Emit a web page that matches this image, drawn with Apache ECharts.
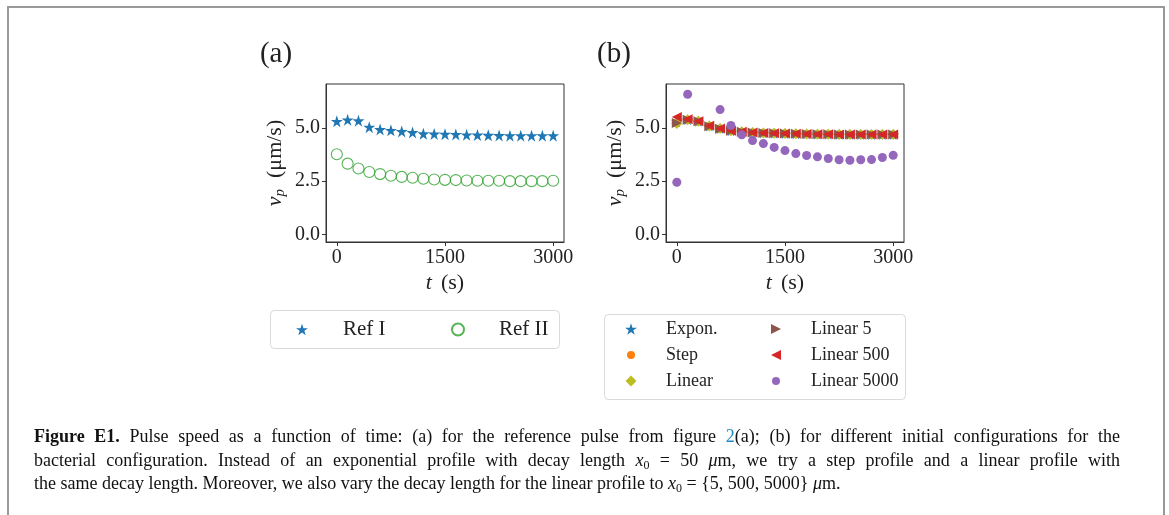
<!DOCTYPE html>
<html>
<head>
<meta charset="utf-8">
<script src="https://cdn.jsdelivr.net/npm/echarts@6/dist/echarts.min.js"></script>
<style>
html,body{margin:0;padding:0;background:#fff;}
#wrap{position:relative;width:1169px;height:515px;overflow:hidden;}
#main{position:absolute;left:0;top:0;width:1169px;height:515px;}
#cap{position:absolute;left:34px;top:425px;width:1086px;font-family:"Liberation Serif","DejaVu Serif",serif;font-size:18px;line-height:23.5px;color:#111;}
#cap div{white-space:nowrap;}
#cap .j{text-align:justify;text-align-last:justify;white-space:normal;}
#cap b{font-weight:bold;}
#cap .lk{color:#1f8ac8;}
#cap i{font-style:italic;}
#cap sub{font-size:12px;vertical-align:-3px;line-height:0;}
</style>
</head>
<body>
<div id="wrap">
<div id="main"></div>
<div id="cap">
<div class="j"><b>Figure E1.</b> Pulse speed as a function of time: (a) for the reference pulse from figure <span class="lk">2</span>(a); (b) for different initial configurations for the</div>
<div class="j">bacterial configuration. Instead of an exponential profile with decay length <i>x</i><sub>0</sub> = 50 <i>μ</i>m, we try a step profile and a linear profile with</div>
<div>the same decay length. Moreover, we also vary the decay length for the linear profile to <i>x</i><sub>0</sub> = {5, 500, 5000} <i>μ</i>m.</div>
</div>
</div>
<script>
// ---- data ----
const times = [0,150,300,450,600,750,900,1050,1200,1350,1500,1650,1800,1950,2100,2250,2400,2550,2700,2850,3000];
const xTicks = [0,1500,3000];
const yTicks = [0,2.5,5.0];
// panel (a)
const refI  = [5.30,5.37,5.33,5.03,4.92,4.88,4.83,4.78,4.72,4.71,4.70,4.69,4.67,4.66,4.65,4.64,4.63,4.63,4.63,4.63,4.63];
const refII = [3.76,3.32,3.09,2.93,2.83,2.75,2.70,2.66,2.61,2.58,2.56,2.55,2.53,2.52,2.52,2.52,2.50,2.50,2.50,2.50,2.52];
// panel (b)
const expon      = [5.28,5.38,5.30,5.08,4.96,4.86,4.81,4.78,4.76,4.74,4.73,4.72,4.71,4.70,4.70,4.69,4.69,4.69,4.68,4.68,4.68];
const step       = [5.22,5.36,5.29,5.07,4.95,4.86,4.81,4.78,4.76,4.74,4.73,4.72,4.71,4.70,4.70,4.69,4.69,4.68,4.68,4.68,4.68];
const linear     = [5.20,5.37,5.30,5.08,4.96,4.86,4.81,4.78,4.76,4.74,4.73,4.72,4.71,4.70,4.70,4.69,4.69,4.68,4.68,4.68,4.68];
const linear5    = [5.22,5.37,5.30,5.07,4.95,4.86,4.81,4.78,4.76,4.74,4.73,4.72,4.71,4.70,4.70,4.69,4.69,4.68,4.68,4.68,4.68];
const linear500  = [5.50,5.40,5.31,5.09,4.97,4.86,4.81,4.78,4.76,4.74,4.73,4.72,4.71,4.70,4.70,4.69,4.69,4.68,4.68,4.68,4.68];
const linear5000 = [2.45,6.57,null,null,5.85,5.11,4.67,4.40,4.26,4.08,3.93,3.79,3.70,3.64,3.56,3.50,3.48,3.50,3.51,3.61,3.71];

const pairs = vals => times.map((t,i)=>[t,vals[i]]).filter(p=>p[1]!==null);

const SERIF = '"Liberation Serif","DejaVu Serif",serif';
const C = {blue:'#1f77b4',orange:'#ff7f0e',green:'#2ca02c',red:'#d62728',purple:'#9467bd',brown:'#8c564b',olive:'#bcbd22'};
const STAR = 'path://M50,0 L61.8,35.1 L98.9,35.1 L68.9,57 L80.3,92.1 L50,70.2 L19.7,92.1 L31.1,57 L1.1,35.1 L38.2,35.1 Z';
const TRI_R = 'path://M0,0 L100,50 L0,100 Z';
const TRI_L = 'path://M100,0 L0,50 L100,100 Z';

function xAxis(idx){
  return {
    gridIndex: idx, type:'value', min:-150, max:3150,
    name:'{i|t}{g| }{n|(s)}', nameLocation:'middle', nameGap:30,
    nameTextStyle:{fontFamily:SERIF, color:'#222', rich:{
      i:{fontFamily:SERIF, fontStyle:'italic', fontSize:22, color:'#222'},
      g:{fontFamily:SERIF, fontSize:22, width:9},
      n:{fontFamily:SERIF, fontSize:22, color:'#222'}}},
    axisLine:{show:true, onZero:false, lineStyle:{color:'#333', width:1}},
    axisTick:{show:true, customValues:xTicks, length:4, inside:false, lineStyle:{color:'#333'}},
    axisLabel:{show:true, customValues:xTicks, margin:6, fontFamily:SERIF, fontSize:20, color:'#222',
      formatter: v => String(Math.round(v))},
    splitLine:{show:false}
  };
}
function yAxis(idx){
  return {
    gridIndex: idx, type:'value', min:-0.35, max:7.05,
    name:'{i|v}{s|p}{n|  (μm/s)}', nameLocation:'middle', nameGap:38, nameRotate:90,
    nameTextStyle:{fontFamily:SERIF, color:'#222', rich:{
      i:{fontFamily:SERIF, fontStyle:'italic', fontSize:22, lineHeight:26, color:'#222'},
      s:{fontFamily:SERIF, fontStyle:'italic', fontSize:15, lineHeight:15, verticalAlign:'bottom', color:'#222'},
      n:{fontFamily:SERIF, fontSize:22, lineHeight:26, color:'#222'}}},
    axisLine:{show:true, onZero:false, lineStyle:{color:'#333', width:1}},
    axisTick:{show:true, customValues:yTicks, length:4, inside:false, lineStyle:{color:'#333'}},
    axisLabel:{show:true, customValues:yTicks, margin:6, fontFamily:SERIF, fontSize:20, color:'#222',
      formatter: v => Number(v).toFixed(1)},
    splitLine:{show:false}
  };
}
function sc(name, idx, data, symbol, size, color, extra){
  return Object.assign({
    name, type:'scatter', xAxisIndex:idx, yAxisIndex:idx, data:pairs(data),
    symbol, symbolSize:size, itemStyle:{color, opacity:1}, emphasis:{disabled:true}, silent:true
  }, extra||{});
}
// legend item: marker centred at mx, text starting at tx, row centred at my
function lg(name, icon, size, mx, tx, my, fs){
  const left = mx - size/2;
  const pad = tx - (left + size + 5);
  return {data:[{name, icon}], left, top:my-10, orient:'horizontal', padding:0, itemWidth:size, itemHeight:size,
    itemGap:0, selectedMode:false,
    textStyle:{fontFamily:SERIF, fontSize:fs, color:'#222', lineHeight:20, padding:[0,0,0,pad]}};
}

const option = {
  backgroundColor:'#fff',
  animation:false,
  grid:[
    {left:326, top:84, width:238, height:158, show:true, borderColor:'#333', borderWidth:1, containLabel:false},
    {left:666, top:84, width:238, height:158, show:true, borderColor:'#333', borderWidth:1, containLabel:false}
  ],
  xAxis:[xAxis(0), xAxis(1)],
  yAxis:[yAxis(0), yAxis(1)],
  legend:[
    lg('Ref I', STAR, 12, 302, 343, 329, 21),
    lg('Ref II', 'circle', 12, 457, 498, 329, 21),
    lg('Expon.', STAR, 12, 631, 666, 329, 18),
    lg('Step', 'circle', 8, 631, 666, 355, 18),
    lg('Linear', 'diamond', 11, 631, 666, 381, 18),
    lg('Linear 5', TRI_R, 10, 776, 811, 329, 18),
    lg('Linear 500', TRI_L, 10, 776, 811, 355, 18),
    lg('Linear 5000', 'circle', 8, 776, 811, 381, 18)
  ],
  series:[
    sc('Ref I', 0, refI, STAR, 12, C.blue),
    sc('Ref II', 0, refII, 'circle', 11, 'rgba(0,0,0,0)', {itemStyle:{color:'rgba(0,0,0,0)', borderColor:C.green, borderWidth:1.1}}),
    sc('Expon.', 1, expon, STAR, 11, C.blue),
    sc('Step', 1, step, 'circle', 8, C.orange),
    sc('Linear', 1, linear, 'diamond', 11, C.olive),
    sc('Linear 5', 1, linear5, TRI_R, 10, C.brown),
    sc('Linear 500', 1, linear500, TRI_L, 10, C.red),
    sc('Linear 5000', 1, linear5000, 'circle', 9, C.purple)
  ],
  graphic:[
    {type:'rect', shape:{x:8, y:7, width:1156, height:530}, style:{fill:'none', stroke:'#999', lineWidth:2}, silent:true},
    {type:'rect', shape:{x:270.5, y:310.5, width:289, height:38, r:4}, style:{fill:'none', stroke:'#d9d9d9', lineWidth:1}, silent:true},
    {type:'rect', shape:{x:604.5, y:314.5, width:301, height:85, r:4}, style:{fill:'none', stroke:'#d9d9d9', lineWidth:1}, silent:true},
    {type:'text', x:276, y:54, style:{text:'(a)', font:'29px '+SERIF, fill:'#222', textAlign:'center', textVerticalAlign:'middle'}},
    {type:'text', x:614, y:54, style:{text:'(b)', font:'29px '+SERIF, fill:'#222', textAlign:'center', textVerticalAlign:'middle'}}
  ]
};
const chart = echarts.init(document.getElementById('main'), null, {renderer:'canvas'});
chart.setOption(option);
</script>
</body>
</html>
